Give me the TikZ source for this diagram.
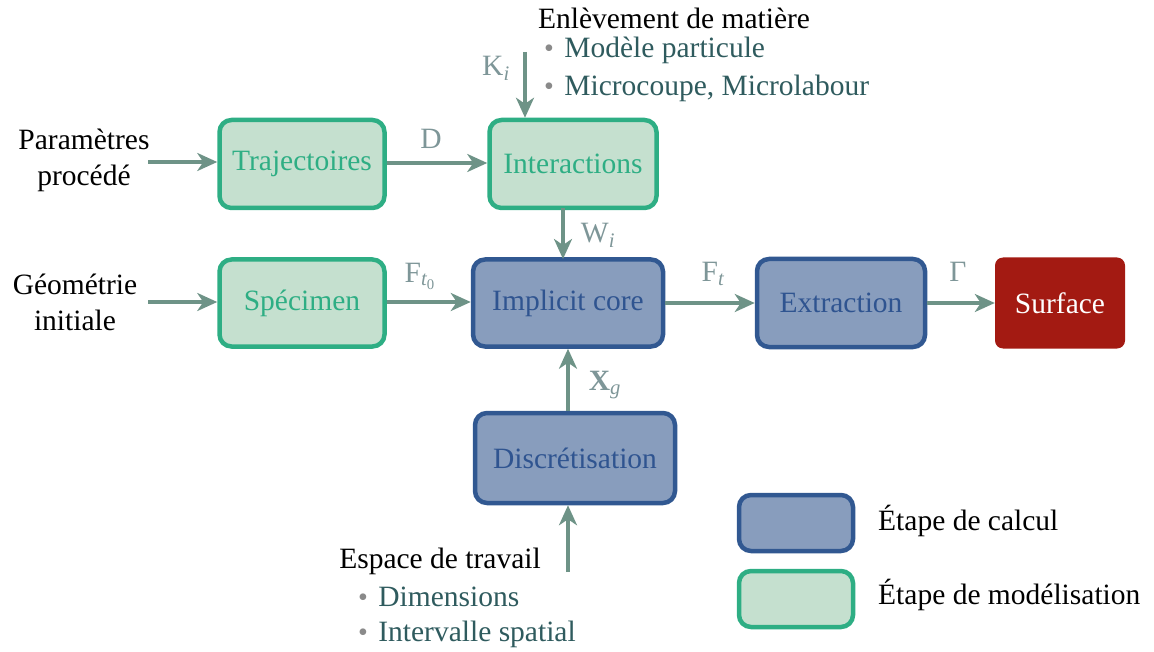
\documentclass[tikz,border=0pt]{standalone}
\usepackage{fontspec}
\setmainfont{Liberation Serif}
\usepackage{graphicx}
\usetikzlibrary{arrows.meta}
\definecolor{grnline}{HTML}{2EAE84}
\definecolor{grnfill}{HTML}{C5E0CF}
\definecolor{blueline}{HTML}{315891}
\definecolor{bluefill}{HTML}{889DBD}
\definecolor{bluetext}{HTML}{2F5490}
\definecolor{redfill}{HTML}{A31A12}
\definecolor{arrowc}{HTML}{6E9387}
\definecolor{labelc}{HTML}{7E9698}
\definecolor{itemc}{HTML}{2F5B5E}
\definecolor{bulc}{HTML}{8A8A8A}
\newcommand{\itm}{{\color{bulc}\raisebox{0.0em}{\scalebox{0.95}{•}}}\hspace{0.35em}}
\begin{document}
\begin{tikzpicture}[x=1pt,y=-1pt,
  every node/.style={font=\fontsize{29.5}{36}\selectfont, inner sep=0pt},
  modelbox/.style={draw=grnline, fill=grnfill, line width=4.5pt, rounded corners=12pt, text=grnline},
  calcbox/.style={draw=blueline, fill=bluefill, line width=4.5pt, rounded corners=12pt, text=bluetext},
  outbox/.style={fill=redfill, rounded corners=8pt, text=white},
  flow/.style={draw=arrowc, line width=3.3pt, -{Stealth[length=20pt,width=18pt,inset=6pt]}},
  lbl/.style={text=labelc},
  plain/.style={text=black, align=center},
  itemtext/.style={text=itemc, anchor=west}]
\useasboundingbox (0,0) rectangle (1154,652);

% boxes
\node[modelbox, minimum width=165pt, minimum height=88pt] (traj) at (302,164) {Trajectoires};
\node[modelbox, minimum width=167pt, minimum height=88pt] (inter) at (573,164) {Interactions};
\node[modelbox, minimum width=165pt, minimum height=87pt] (spec) at (302,303) {Spécimen};
\node[calcbox, minimum width=190pt, minimum height=87pt] (core) at (568,303) {Implicit core};
\node[calcbox, minimum width=168pt, minimum height=88pt] (extr) at (841,303) {Extraction};
\node[outbox, minimum width=130pt, minimum height=91pt] (surf) at (1060,303) {Surface};
\node[calcbox, minimum width=200pt, minimum height=90pt] (disc) at (575,458) {Discrétisation};

% legend
\node[calcbox, minimum width=114pt, minimum height=56pt] (legc) at (796,523) {};
\node[modelbox, minimum width=114pt, minimum height=56pt] (legm) at (796,599) {};
\node[anchor=west] (legct) at (878,521) {Étape de calcul};
\node[anchor=west] (legmt) at (878,595) {Étape de modélisation};

% inputs text
\node[plain] (param) at (84,160) {Paramètres\\procédé};
\node[plain] (geom) at (75,302) {Géométrie\\initiale};
\node[plain] (enl) at (674,18) {Enlèvement de matière};
\node[itemtext] (it1) at (544,50) {\itm Modèle particule};
\node[itemtext] (it2) at (544,88) {\itm Microcoupe, Microlabour};
\node[plain] (esp) at (440,561) {Espace de travail};
\node[itemtext] (it3) at (358,597) {\itm Dimensions};
\node[itemtext] (it4) at (358,634) {\itm Intervalle spatial};

% free ends
\coordinate (pin) at (148,162);
\coordinate (gin) at (148,302);
\coordinate (kin) at (525,52);
\coordinate (ein) at (568,572);

% connectors
\draw[flow] (pin) -- (traj.west |- pin);
\draw[flow] (gin) -- (spec.west |- gin);
\draw[flow] (traj.east |- 0,163) -- (inter.west |- 0,163);
\draw[flow] (kin) -- (kin |- inter.north);
\draw[flow] (563,208) -- (563,259);
\draw[flow] (spec.east |- 0,302) -- (core.west |- 0,302);
\draw[flow] (core.east |- 0,303) -- (extr.west |- 0,303);
\draw[flow] (extr.east |- 0,303) -- (surf.west |- 0,303);
\draw[flow] (disc.north -| ein) -- (core.south -| ein);
\draw[flow] (ein) -- (disc.south -| ein);

% labels
\node[lbl] (ld) at (431,139) {D};
\node[lbl] (lk) at (496,68) {K$_{\mathit{i}}$};
\node[lbl] (lw) at (598,235) {W$_{\mathit{i}}$};
\node[lbl] (lf0) at (420,276) {F$_{\mathit{t}_{\mathrm{0}}}$};
\node[lbl] (lft) at (713,274) {F$_{\mathit{t}}$};
\node[lbl] (lg) at (958,272) {Γ};
\node[lbl] (lx) at (605,385) {\textbf{X}$_{\mathit{g}}$};
\end{tikzpicture}
\end{document}
